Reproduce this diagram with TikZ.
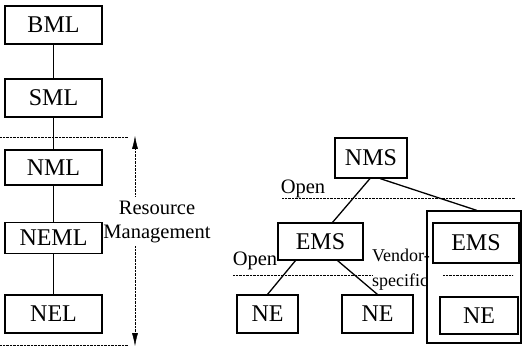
\documentclass[tikz,border=0pt]{standalone}
\usepackage{fontspec}
\setmainfont{Liberation Serif}
\usetikzlibrary{positioning, arrows.meta}

\tikzset{
  layer/.style={draw, line width=1.1pt, minimum width=97pt, minimum height=38pt, inner sep=0pt, font=\fontsize{24}{26}\selectfont},
  sysbox/.style={draw, line width=1.1pt, minimum height=38pt, inner sep=0pt, font=\fontsize{24}{26}\selectfont},
  lbl/.style={inner sep=0pt, font=\fontsize{20.5}{22}\selectfont},
  sep/.style={densely dotted, thin},
  link/.style={line width=1.3pt}
}

\begin{document}
\begin{tikzpicture}[x=1pt, y=-1pt]
  \useasboundingbox (0,0) rectangle (523,353);

  % management layers
  \node[layer] (bml) at (53.5,25) {BML};
  \node[layer] (sml) at (53.5,98) {SML};
  \node[layer, minimum height=35pt] (nml) at (53.5,167.5) {NML};
  \node[layer, minimum height=31pt] (neml) at (53.5,238) {NEML};
  \node[layer] (nel) at (53.5,314) {NEL};

  \draw[link] (bml) -- (sml);
  \draw[link] (sml) -- (nml);
  \draw[link] (nml) -- (neml);
  \draw[link] (neml) -- (nel);

  % resource management range
  \coordinate (rtop) at (135,136);
  \coordinate (rbot) at (135,346);
  \draw[sep] (0,137) -- (128,137);
  \draw[sep] (0,345) -- (128,345);
  \node[lbl] (res) at (157,208) {Resource};
  \node[lbl] (mgmt) at (157,234) {Management};
  \draw[sep, -{Latex[length=13pt, width=6pt]}] (135,196) -- (rtop);
  \draw[sep, -{Latex[length=13pt, width=6pt]}] (135,246) -- (rbot);

  % systems
  \node[sysbox, minimum width=72pt, minimum height=40pt] (nms) at (371,158) {NMS};
  \node[sysbox, minimum width=85pt, minimum height=37pt] (ems) at (320.5,241.5) {EMS};
  \node[sysbox, minimum width=61pt] (ne1) at (267.5,314) {NE};
  \node[sysbox, minimum width=71pt] (ne2) at (377.5,314) {NE};

  \node[draw, line width=1.1pt, minimum width=94pt, minimum height=132pt, inner sep=0pt] (vend) at (474,277) {};
  \node[sysbox, minimum width=86pt, minimum height=40pt] (ems2) at (476,243) {EMS};
  \node[sysbox, minimum width=78pt, minimum height=37pt] (ne3) at (479,315.5) {NE};

  \draw[link] ([xshift=-1pt]nms.south) -- ([xshift=12pt]ems.north);
  \draw[link] ([xshift=9pt]nms.south) -- ([xshift=3pt]vend.north);
  \draw[link] ([xshift=-25pt]ems.south) -- (ne1.north);
  \draw[link] ([xshift=17pt]ems.south) -- (ne2.north);

  % interfaces
  \node[lbl] (open1) at (303,189) {Open};
  \node[lbl] (open2) at (255,261) {Open};
  \node[lbl, font=\fontsize{18}{20}\selectfont, anchor=west] (vendor) at (372,255) {Vendor-};
  \node[lbl, font=\fontsize{18}{20}\selectfont, anchor=west] (specific) at (372,282) {specific};
  \draw[sep] (282,198) -- (515,198);
  \draw[sep] (233,275) -- (372,275);
  \draw[sep] (443,275) -- (513,275);
\end{tikzpicture}
\end{document}
